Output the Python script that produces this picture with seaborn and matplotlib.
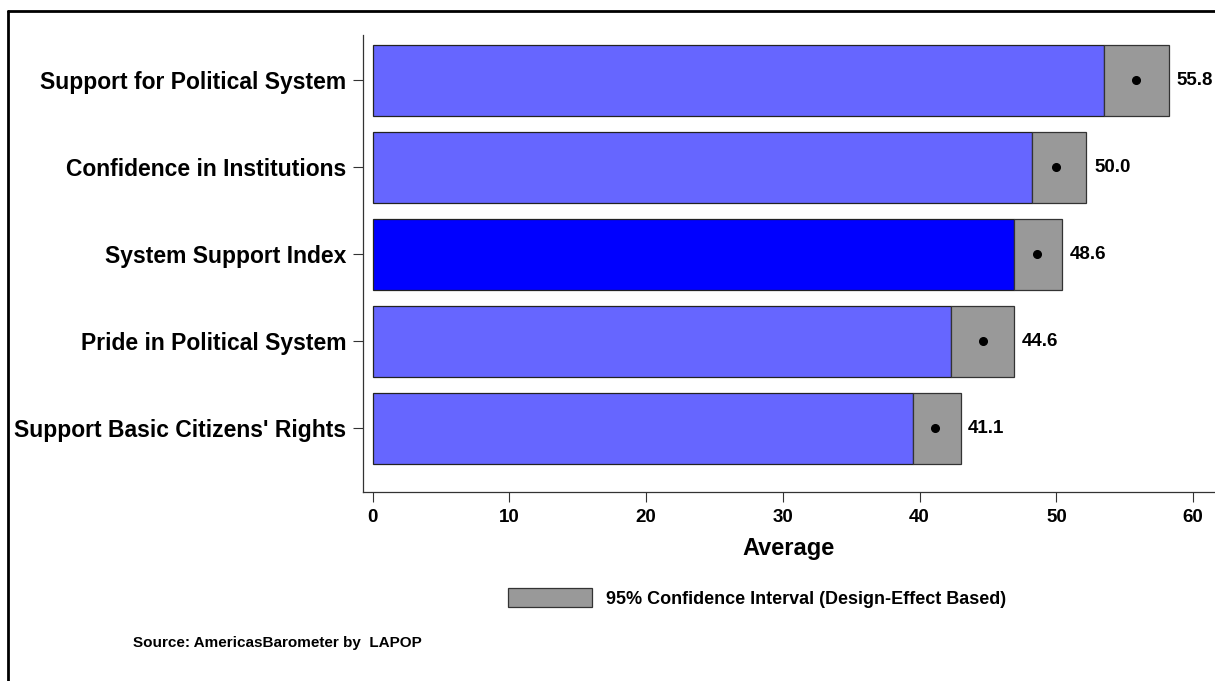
import numpy as np
import pandas as pd
import seaborn as sns
import matplotlib.pyplot as plt
from matplotlib.patches import Patch

# values
categories = ["Support for Political System", "Confidence in Institutions",
              "System Support Index", "Pride in Political System",
              "Support Basic Citizens' Rights"]
means = [55.8, 50.0, 48.6, 44.6, 41.1]
ci_low = [53.5, 48.2, 46.9, 42.3, 39.5]
ci_high = [58.2, 52.2, 50.4, 46.9, 43.0]
bar_colors = ["#6666FF", "#6666FF", "#0000FF", "#6666FF", "#6666FF"]
x_ticks = [0, 10, 20, 30, 40, 50, 60]

sns.set_style("white")
plt.rcParams['font.family'] = ['Liberation Sans', 'DejaVu Sans']
plt.rcParams['font.weight'] = 'bold'
plt.rcParams['text.color'] = 'black'

df = pd.DataFrame({"label": categories, "mean": means,
                   "low": ci_low, "high": ci_high})

fig = plt.figure(figsize=(12.15, 6.81), dpi=100)
ax = fig.add_axes([363 / 1215, 1 - 492 / 681, (1215 - 363) / 1215, (492 - 35) / 681])

# blue bar up to the lower CI bound
sns.barplot(data=df, x="low", y="label", hue="label", palette=bar_colors,
            legend=False, width=0.82, edgecolor="#222222", linewidth=0.9,
            saturation=1, ax=ax)

# grey confidence interval box
pos = np.arange(len(categories))
ax.barh(pos, df["high"] - df["low"], left=df["low"], height=0.82,
        color="#999999", edgecolor="#333333", linewidth=0.9)

# mean dot
ax.plot(df["mean"], pos, "o", color="black", markersize=5.5)

for i, row in df.iterrows():
    ax.text(row["high"] + 0.55, i, f"{row['mean']:.1f}", va="center",
            ha="left", fontsize=13.5, fontweight="bold", color="black")

ax.set_xlim(-0.7, 61.6)
ax.set_ylim(4.73, -0.52)
ax.set_xticks(x_ticks)
ax.set_xticklabels([str(t) for t in x_ticks], fontsize=13.5, fontweight="bold",
                   color="black")
ax.set_yticks(pos)
ax.set_yticklabels(categories, fontsize=16.5, fontweight="bold", color="black")
ax.set_xlabel("Average", fontsize=17, fontweight="bold", labelpad=8, color="black")
ax.set_ylabel("")
ax.tick_params(axis="both", direction="out", length=7, width=0.8,
               color="#333333", bottom=True, left=True, pad=5)
for side in ["top", "right"]:
    ax.spines[side].set_visible(False)
for side in ["left", "bottom"]:
    ax.spines[side].set_color("#333333")
    ax.spines[side].set_linewidth(0.9)

# legend
handle = Patch(facecolor="#999999", edgecolor="#333333", linewidth=0.9)
fig.legend([handle], ["95% Confidence Interval (Design-Effect Based)"],
           loc="center left", bbox_to_anchor=(499 / 1215, 1 - 598 / 681),
           frameon=False, borderpad=0, handlelength=4.65, handleheight=1.22,
           handletextpad=0.75, labelcolor="black",
           prop={"size": 13, "weight": "bold"})

fig.text(133 / 1215, 1 - 643 / 681, "Source: AmericasBarometer by  LAPOP",
         fontsize=11, fontweight="bold", va="center", color="black")

# outer frame: top and left lines only
fig.add_artist(plt.Line2D([8 / 1215, 8 / 1215], [0, 1 - 11 / 681],
                          color="black", linewidth=2, transform=fig.transFigure))
fig.add_artist(plt.Line2D([8 / 1215, 1], [1 - 11 / 681, 1 - 11 / 681],
                          color="black", linewidth=2, transform=fig.transFigure))

fig.savefig("out.png", dpi=100)
